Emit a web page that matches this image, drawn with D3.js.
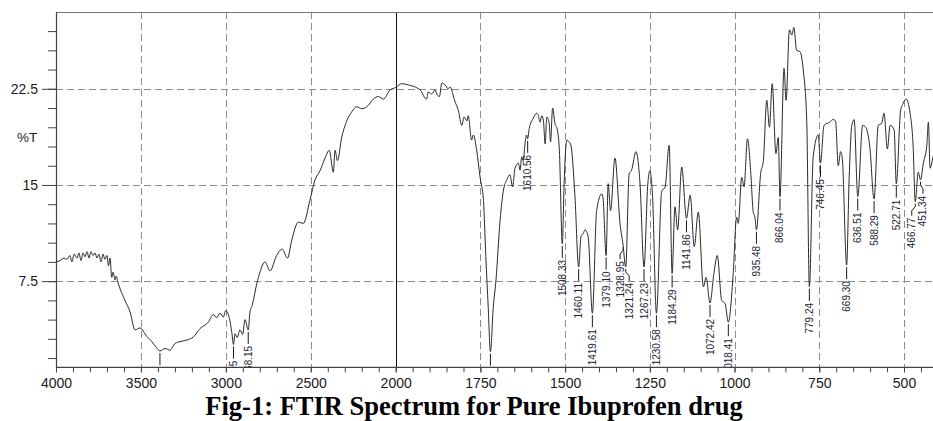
<!DOCTYPE html>
<html>
<head>
<meta charset="utf-8">
<script src="https://cdn.jsdelivr.net/npm/d3@7"></script>
<style>
  html, body { margin: 0; padding: 0; background: #fff; }
  svg { display: block; }
</style>
</head>
<body>
<svg id="chart" width="933" height="421"></svg>
<script>
// ---------------- DATA ----------------
const wavenumbers = [
  4000,3976,3953,3935,3918,3906,3894,3876,3865,3853,3841,3829,3817,3806,3794,3782,3770,3759,3747,3735,
  3723,3712,3700,3691,3682,3672,3664,3653,3645,3635,3594,3564,3535,3505,3466,3440,3410,3388,3358,3329,
  3299,3270,3231,3190,3152,3103,3074,3054,3034,3015,3001,2976,2965,2954.95,2946,2933,2917,2901,2887,2868.15,
  2858,2845,2818,2799,2770,2740,2701,2669,2637,2612,2573,2544,2505,2475,2446,2416,2391,2367,2357,2343,
  2318,2288,2259,2229,2200,2170,2131,2102,2072,2034,2000,1982,1963,1948,1933,1923,1919,1909,1904,1894,
  1884,1877,1871,1864,1854,1845,1840,1825,1815,1805,1798,1790,1786,1776,1771,1761,1751,1741,1734,1727,
  1720.5,1712,1704,1692,1682,1672,1663,1655,1648,1638,1633,1628,1624,1618,1614,1610.56,1606,1594,1584,1579,
  1574,1569,1564,1559,1554,1547,1543,1537,1530,1523,1517,1508.33,1503,1495,1488,1483,1471,1460.11,1453,1447,
  1441,1432,1419.61,1407,1392,1388,1379.10,1373,1366,1353,1338,1328.95,1321.24,1311,1304,1291,1279,1267.23,1256,1250,
  1242,1230.58,1215,1205,1193,1184.29,1176,1168,1156,1141.86,1131,1119,1107,1092,1084,1072.42,1061,1051,1038,1028,
  1018.41,1004,994,989,979,972,962,952,945,940,935.48,923,915,905,897,889,878,871,866.04,854,
  848,838,831,825,817,807,797,787,779.24,768,753,746.45,736,719,710,702,694,687,682,669.30,
  662,654,647,636.51,622,613,601,588.29,576,566,559,549,541,529,522.71,510,503,494,482,473,
  466.77,458,451.34,443,433,428,423,414,405
];
const transmittance = [
  9.0,9.1,9.3,9.2,9.5,9.0,9.6,9.3,9.7,9.1,9.7,9.4,9.8,9.3,9.8,9.5,9.7,9.3,9.6,9.0,
  9.6,9.2,9.5,8.7,9.3,7.8,8.2,7.6,7.9,7.4,6.0,5.1,3.7,3.85,3.2,2.85,2.35,2.05,2.25,2.12,
  2.64,2.78,2.9,3.16,3.8,4.3,4.9,4.65,5.0,4.7,5.2,4.4,3.5,2.55,3.4,3.1,3.7,3.35,4.5,3.7,
  5.1,5.6,7.3,8.2,9.0,8.3,9.5,10.0,9.3,10.7,12.1,12.0,13.8,15.4,16.1,17.1,17.7,16.0,17.7,16.9,
  18.7,20.0,20.7,21.1,20.95,21.1,21.7,21.9,21.7,22.4,22.6,22.9,22.8,22.7,22.5,22.25,22.0,21.7,22.25,22.1,
  22.4,22.0,21.9,22.95,22.8,22.5,22.65,21.5,20.8,19.65,20.3,20.0,20.4,18.5,18.9,17.7,15.6,13.8,9.4,5.5,
  2.0,5.5,7.6,12.25,14.6,15.4,15.8,14.85,16.3,16.7,16.15,17.2,16.9,18.3,18.9,18.6,19.4,20.2,20.6,20.4,
  19.9,20.4,20.0,18.2,20.3,19.8,18.35,21.0,19.8,19.3,17.7,10.4,15.1,18.5,18.35,18.1,14.1,8.6,11.0,11.2,
  11.5,10.95,5.0,13.0,14.3,13.95,9.5,15.1,13.0,17.1,12.0,10.3,8.6,15.9,16.15,17.6,15.1,8.6,15.1,16.1,
  14.1,5.0,14.5,14.85,18.1,8.1,13.3,11.5,16.4,12.4,14.2,10.2,12.9,7.05,7.8,5.8,8.1,9.5,6.0,5.75,
  4.3,8.1,12.5,12.0,15.6,14.85,18.6,15.9,12.9,12.5,11.5,15.9,16.9,21.6,19.5,22.9,17.45,18.7,14.1,24.1,
  21.6,27.1,26.7,27.3,25.5,25.4,23.9,20.0,7.05,17.2,18.9,16.7,19.65,19.9,20.1,20.0,16.5,17.6,17.05,8.75,
  15.4,19.65,20.1,14.1,19.65,19.5,18.0,13.9,19.65,19.8,20.6,17.8,19.65,19.3,15.1,20.8,21.35,21.7,20.6,18.0,
  13.7,16.0,15.4,16.7,18.0,19.9,16.3,17.2,18.0
];
// labelled peaks (wavenumber of the peak and its printed label)
const peakWavenumbers = [3388, 2954.95, 2868.15, 1720.5, 1610.56, 1508.33, 1460.11, 1419.61, 1379.10, 1328.95,
  1321.24, 1267.23, 1230.58, 1184.29, 1141.86, 1072.42, 1018.41, 935.48, 866.04, 779.24,
  746.45, 669.30, 636.51, 588.29, 522.71, 466.77, 451.34];
const peakLabels = ["", "2954.95", "2868.15", "", "1610.56", "1508.33", "1460.11", "1419.61", "1379.10", "1328.95",
  "1321.24", "1267.23", "1230.58", "1184.29", "1141.86", "1072.42", "1018.41", "935.48", "866.04", "779.24",
  "746.45", "669.30", "636.51", "588.29", "522.71", "466.77", "451.34"];
const xMajorTicks = [4000, 3500, 3000, 2500, 2000, 1750, 1500, 1250, 1000, 750, 500];
const yMajorTicks = [7.5, 15, 22.5];
const titleText = "Fig-1: FTIR Spectrum for Pure Ibuprofen drug";
const yAxisTitle = "%T";

// ---------------- LAYOUT ----------------
const L = 56, R = 933, T = 12, B = 367.3;
const x = d3.scaleLinear().domain([4000, 2000, 500]).range([L, 395.7, 904]);
const y = d3.scaleLinear().domain([0.78, 28.49]).range([B, T]);

const svg = d3.select("#chart");
const font = "'Liberation Sans', Arial, sans-serif";

svg.append("defs").append("clipPath").attr("id", "plotclip")
  .append("rect").attr("x", L).attr("y", T).attr("width", R - L + 5).attr("height", B - T);

// grid
const gridX = xMajorTicks.filter(d => d !== 4000 && d !== 2000);
svg.append("g").selectAll("line").data(gridX).join("line")
  .attr("x1", d => Math.round(x(d)) + 0.5).attr("x2", d => Math.round(x(d)) + 0.5)
  .attr("y1", T).attr("y2", B)
  .attr("stroke", "#8c8c8c").attr("stroke-width", 1).attr("stroke-dasharray", "7,4");
svg.append("g").selectAll("line").data(yMajorTicks).join("line")
  .attr("x1", L).attr("x2", R)
  .attr("y1", d => Math.round(y(d)) + 0.5).attr("y2", d => Math.round(y(d)) + 0.5)
  .attr("stroke", "#8c8c8c").attr("stroke-width", 1).attr("stroke-dasharray", "7,4");
// solid line at 2000 (scale change)
svg.append("line")
  .attr("x1", Math.round(x(2000)) + 0.5).attr("x2", Math.round(x(2000)) + 0.5)
  .attr("y1", T).attr("y2", B).attr("stroke", "#111").attr("stroke-width", 1);

// frame
svg.append("line").attr("x1", L).attr("x2", R).attr("y1", T + 0.5).attr("y2", T + 0.5)
  .attr("stroke", "#777").attr("stroke-width", 1.2);

// x axis
const xMinor = d3.range(4000, 2000, -100).concat(d3.range(2000, 399, -50));
const gx = svg.append("g").attr("transform", `translate(0,${B})`);
gx.call(d3.axisBottom(x).tickValues(xMinor).tickSize(5).tickFormat(""));
gx.call(g => g.select(".domain").remove());
const gx2 = svg.append("g").attr("transform", `translate(0,${B})`);
gx2.call(d3.axisBottom(x).tickValues(xMajorTicks).tickSize(5).tickPadding(6).tickFormat(d3.format("d")));
gx2.select(".domain").remove();
svg.selectAll("g.tick line").attr("stroke", "#444");
gx2.selectAll("text").attr("font-family", font).attr("font-size", 14).attr("fill", "#1a1a1a");

// y axis
const yMinor = d3.range(1.5, 28.4, 1.5);
const gy = svg.append("g").attr("transform", `translate(${L},0)`);
gy.call(d3.axisLeft(y).tickValues(yMinor).tickSize(8).tickFormat(""));
gy.select(".domain").remove();
const gy2 = svg.append("g").attr("transform", `translate(${L},0)`);
gy2.call(d3.axisLeft(y).tickValues(yMajorTicks).tickSize(14).tickPadding(4).tickFormat(d => String(d)));
gy2.select(".domain").remove();
svg.selectAll("g.tick line").attr("stroke", "#444");
gy2.selectAll("text").attr("font-family", font).attr("font-size", 14).attr("fill", "#1a1a1a");

svg.append("line").attr("x1", L + 0.5).attr("x2", L + 0.5).attr("y1", T).attr("y2", B)
  .attr("stroke", "#444").attr("stroke-width", 1.2);
svg.append("line").attr("x1", L).attr("x2", R).attr("y1", B).attr("y2", B)
  .attr("stroke", "#444").attr("stroke-width", 1.2);

// y title
svg.append("text").attr("x", 27).attr("y", 141.5).attr("text-anchor", "middle")
  .attr("font-family", font).attr("font-size", 13.5).attr("fill", "#1a1a1a").text(yAxisTitle);

// spectrum
const data = wavenumbers.map((w, i) => ({ w, t: transmittance[i] }));
const plot = svg.append("g").attr("clip-path", "url(#plotclip)");
plot.append("path").datum(data)
  .attr("fill", "none").attr("stroke", "#2a2a2a").attr("stroke-width", 1)
  .attr("stroke-linejoin", "round")
  .attr("d", d3.line().curve(d3.curveMonotoneX).x(d => x(d.w)).y(d => y(d.t)));

// peak labels
const nudge = { "1328.95": -3, "1321.24": 3.5, "466.77": -3.5, "451.34": 2.5 };
peakWavenumbers.forEach((w, i) => {
  const idx = wavenumbers.indexOf(w);
  const px = x(w), py = y(transmittance[idx]);
  const lab = peakLabels[i];
  const dx = nudge[lab] || 0;
  const lx = px + dx;
  const top = py + 2;
  let dpath;
  if (dx) dpath = `M${px},${top}V${top + 3}L${lx},${top + 7}V${top + 12}`;
  else dpath = `M${px},${top}V${top + 12}`;
  plot.append("path").attr("d", dpath).attr("fill", "none")
    .attr("stroke", "#1a1a1a").attr("stroke-width", 1);
  if (lab) {
    plot.append("text")
      .attr("transform", `translate(${lx},${top + 14}) rotate(-90)`)
      .attr("text-anchor", "end").attr("dy", "0.35em")
      .attr("font-family", font).attr("font-size", 10).attr("fill", "#1c2333")
      .text(lab);
  }
});

// title
svg.append("text").attr("x", 474).attr("y", 415).attr("text-anchor", "middle")
  .attr("font-family", "'Liberation Serif', 'Times New Roman', serif")
  .attr("font-weight", "bold").attr("font-size", 26.5).attr("fill", "#000")
  .text(titleText);
</script>
</body>
</html>
